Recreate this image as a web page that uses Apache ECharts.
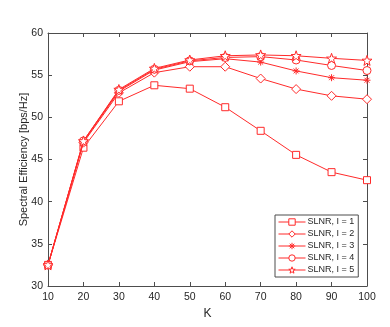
<!DOCTYPE html>
<html><head><meta charset="utf-8">
<script src="https://cdn.jsdelivr.net/npm/echarts@6/dist/echarts.min.js"></script>
<style>html,body{margin:0;padding:0;background:#fff}#c{width:390px;height:327px}</style>
</head><body><div id="c"></div>
<script>
const K = [10, 20, 30, 40, 50, 60, 70, 80, 90, 100];
const yTicks = [30, 35, 40, 45, 50, 55, 60];
const names = ['SLNR, I = 1', 'SLNR, I = 2', 'SLNR, I = 3', 'SLNR, I = 4', 'SLNR, I = 5'];
const s1 = [32.5, 46.4, 51.9, 53.8, 53.4, 51.2, 48.4, 45.55, 43.5, 42.55];
const s2 = [32.5, 47.0, 52.9, 55.3, 56.0, 56.0, 54.6, 53.35, 52.55, 52.15];
const s3 = [32.5, 47.1, 53.1, 55.6, 56.6, 56.95, 56.55, 55.5, 54.7, 54.4];
const s4 = [32.5, 47.2, 53.2, 55.7, 56.7, 57.1, 57.2, 56.8, 56.15, 55.55];
const s5 = [32.5, 47.2, 53.3, 55.8, 56.8, 57.3, 57.4, 57.3, 57.0, 56.75];
const allSeries = [s1, s2, s3, s4, s5];

const RED = '#ff2a2a';
const AX = '#4d4d4d';
const FONT = 'Liberation Sans, Arial, sans-serif';
const asterisk = 'path://M0,-10L0,10M-10,0L10,0M-7,-7L7,7M-7,7L7,-7';
const star = 'path://M0,-10L2.35,-3.24L9.51,-3.09L3.8,1.24L5.88,8.09L0,4L-5.88,8.09L-3.8,1.24L-9.51,-3.09L-2.35,-3.24Z';
const symbols = ['rect', 'diamond', asterisk, 'circle', star];
const sizes = [7, 9, 7, 8, 10];

const chart = echarts.init(document.getElementById('c'));
const axisCommon = {
  axisLine: { show: true, onZero: false, lineStyle: { color: AX, width: 1 } },
  axisTick: { show: true, inside: true, length: 4, lineStyle: { color: AX } },
  splitLine: { show: false }
};
chart.setOption({
  animation: false,
  backgroundColor: '#fff',
  textStyle: { fontFamily: FONT },
  grid: { left: 48, right: 23, top: 33, bottom: 41 },
  xAxis: [
    Object.assign({ type: 'value', min: 10, max: 100, interval: 10, position: 'bottom',
      name: 'K', nameLocation: 'middle', nameGap: 19,
      nameTextStyle: { color: '#262626', fontSize: 12, fontFamily: FONT },
      axisLabel: { color: '#262626', fontSize: 10.5, fontFamily: FONT, margin: 6 } }, axisCommon),
    Object.assign({ type: 'value', min: 10, max: 100, interval: 10, position: 'top',
      axisLabel: { show: false } }, axisCommon)
  ],
  yAxis: [
    Object.assign({ type: 'value', min: yTicks[0], max: yTicks[yTicks.length - 1], interval: 5, position: 'left',
      name: 'Spectral Efficiency [bps/Hz]', nameLocation: 'middle', nameGap: 19, nameMoveOverlap: false,
      nameTextStyle: { color: '#262626', fontSize: 11, fontFamily: FONT },
      axisLabel: { color: '#262626', fontSize: 10.5, fontFamily: FONT, margin: 5 } }, axisCommon),
    Object.assign({ type: 'value', min: 30, max: 60, interval: 5, position: 'right',
      axisLabel: { show: false } }, axisCommon)
  ],
  legend: {
    orient: 'vertical', left: 275, top: 215, itemWidth: 27, itemHeight: 8, itemGap: 0,
    backgroundColor: '#fff', borderColor: AX, borderWidth: 1, borderRadius: 0,
    padding: [1, 4, 1, 3],
    lineStyle: { width: 1 },
    textStyle: { color: '#262626', fontSize: 9, lineHeight: 12, padding: [0, 0, 0, -3], fontFamily: FONT },
    data: names.map((n, i) => ({ name: n,
      itemStyle: { color: i === 2 ? RED : '#fff', borderColor: RED, borderWidth: 1 } }))
  },
  series: allSeries.map((d, i) => ({
    name: names[i], type: 'line', data: K.map((k, j) => [k, d[j]]),
    symbol: symbols[i], symbolSize: sizes[i], showAllSymbol: true,
    lineStyle: { color: RED, width: 1 },
    itemStyle: { color: i === 2 ? RED : '#fff', borderColor: RED, borderWidth: 1 },
    emphasis: { disabled: true }, z: 2 + i
  }))
});
</script></body></html>
